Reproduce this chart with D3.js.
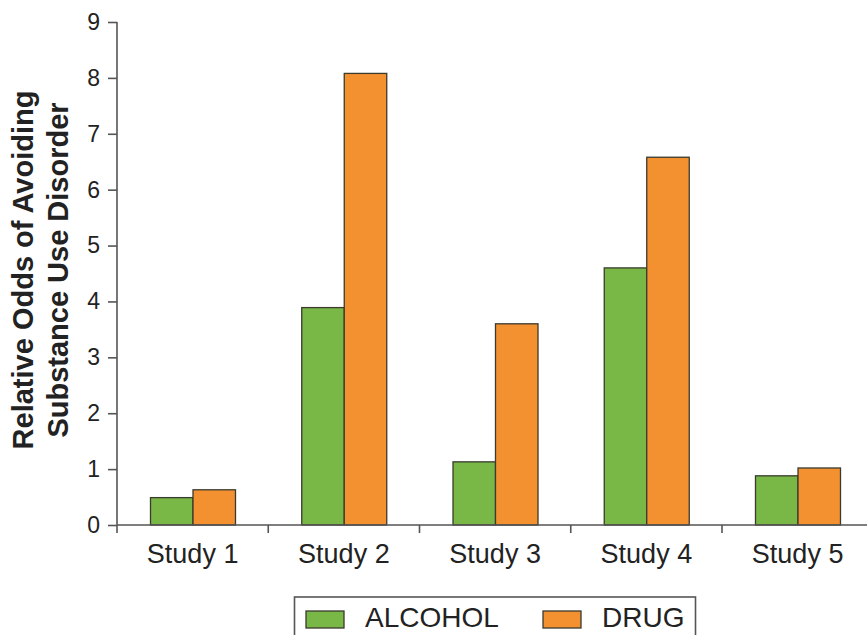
<!DOCTYPE html>
<html>
<head>
<meta charset="utf-8">
<script src="https://cdn.jsdelivr.net/npm/d3@7"></script>
<style>
  html, body { margin: 0; padding: 0; background: #fff; }
  svg { display: block; }
  text { font-family: "Liberation Sans", Arial, Helvetica, sans-serif; fill: #222; }
</style>
</head>
<body>
<svg id="chart" width="867" height="635"></svg>
<script>
// Studies along the x axis
const studies = ["Study 1", "Study 2", "Study 3", "Study 4", "Study 5"];
// Relative odds of avoiding a substance use disorder, per study
const alcohol = [0.49, 3.89, 1.13, 4.60, 0.88];
const drug    = [0.63, 8.08, 3.60, 6.58, 1.02];
const seriesNames = ["ALCOHOL", "DRUG"];
const seriesColors = ["#79b847", "#f39131"];
const yTicks = [0, 1, 2, 3, 4, 5, 6, 7, 8, 9];

const svg = d3.select("#chart");
const plotLeft = 117, plotBase = 525, plotTop = 22;
const bandW = 151.25;

const x0 = d3.scaleBand()
  .domain(studies)
  .range([plotLeft, plotLeft + bandW * studies.length])
  .padding(0);

const x1 = d3.scaleBand()
  .domain(seriesNames)
  .range([33.5, 118.5])
  .padding(0);

const y = d3.scaleLinear().domain([0, 9]).range([plotBase, plotTop]);
const color = d3.scaleOrdinal().domain(seriesNames).range(seriesColors);

const rows = studies.map((s, i) => ({ study: s, values: [
  { key: "ALCOHOL", value: alcohol[i] },
  { key: "DRUG", value: drug[i] }
]}));

// Bars
const groups = svg.append("g").selectAll("g")
  .data(rows)
  .join("g")
  .attr("transform", d => `translate(${x0(d.study)},0)`);

groups.selectAll("rect")
  .data(d => d.values)
  .join("rect")
  .attr("x", d => x1(d.key))
  .attr("y", d => y(d.value))
  .attr("width", x1.bandwidth())
  .attr("height", d => y(0) - y(d.value))
  .attr("fill", d => color(d.key))
  .attr("stroke", "#3a3a2e")
  .attr("stroke-width", 1.3);

// Y axis
const yAxis = svg.append("g")
  .attr("transform", `translate(${plotLeft},0)`)
  .call(d3.axisLeft(y).tickValues(yTicks).tickFormat(d3.format("d")).tickSize(9).tickPadding(8));
yAxis.select(".domain").remove();
yAxis.append("line")
  .attr("x1", 0).attr("x2", 0)
  .attr("y1", plotTop).attr("y2", plotBase + 8)
  .attr("stroke", "#555").attr("stroke-width", 1.6);
yAxis.selectAll(".tick line").attr("stroke", "#555").attr("stroke-width", 1.6);
yAxis.selectAll(".tick text")
  .attr("font-size", 23)
  .style("fill", "#222");

// X axis
const xAxis = svg.append("g")
  .attr("transform", `translate(0,${plotBase})`);
xAxis.append("line")
  .attr("x1", plotLeft).attr("x2", 867)
  .attr("y1", 0).attr("y2", 0)
  .attr("stroke", "#555").attr("stroke-width", 1.6);
xAxis.selectAll("line.sep")
  .data(studies.slice(1))
  .join("line")
  .attr("class", "sep")
  .attr("x1", d => x0(d)).attr("x2", d => x0(d))
  .attr("y1", 0).attr("y2", 8)
  .attr("stroke", "#555").attr("stroke-width", 1.6);
xAxis.selectAll("text")
  .data(studies)
  .join("text")
  .attr("x", d => x0(d) + x0.bandwidth() / 2)
  .attr("y", 38)
  .attr("text-anchor", "middle")
  .attr("font-size", 27)
  .text(d => d);

// Y axis title
const title = svg.append("text")
  .attr("transform", "translate(0,270) rotate(-90)")
  .attr("text-anchor", "middle")
  .attr("font-size", 29)
  .attr("font-weight", "bold");
title.append("tspan").attr("x", 0).attr("y", 33).text("Relative Odds of Avoiding");
title.append("tspan").attr("x", 0).attr("y", 68).text("Substance Use Disorder");

// Legend
const legend = svg.append("g");
legend.append("rect")
  .attr("x", 294.5).attr("y", 597)
  .attr("width", 401).attr("height", 60)
  .attr("fill", "#fff")
  .attr("stroke", "#555").attr("stroke-width", 1.6);
const legendX = [306, 543];
const items = legend.selectAll("g.item")
  .data(seriesNames)
  .join("g")
  .attr("class", "item")
  .attr("transform", (d, i) => `translate(${legendX[i]},0)`);
items.append("rect")
  .attr("x", 0).attr("y", 611)
  .attr("width", 38).attr("height", 17)
  .attr("fill", d => color(d))
  .attr("stroke", "#3a3a2e").attr("stroke-width", 1.3);
items.append("text")
  .attr("x", 59).attr("y", 627)
  .attr("font-size", 28)
  .text(d => d);
</script>
</body>
</html>
